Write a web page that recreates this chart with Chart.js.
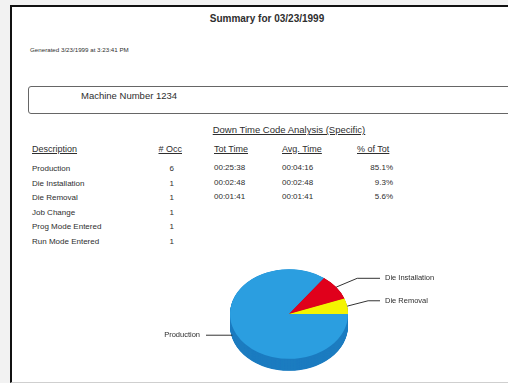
<!DOCTYPE html>
<html>
<head>
<meta charset="utf-8">
<script src="https://cdn.jsdelivr.net/npm/chart.js@4/dist/chart.umd.min.js"></script>
<style>
  html, body { margin: 0; padding: 0; }
  body {
    width: 508px; height: 383px; position: relative; overflow: hidden;
    background: #f2f2f2;
    font-family: "Liberation Sans", Arial, sans-serif; color: #2e2e2e;
  }
  #page {
    position: absolute; left: 10px; top: 5px; width: 520px; height: 375px;
    background: #fff; border-left: 2px solid #111; border-top: 2px solid #111;
    border-bottom: 1px solid #cfcfcf;
  }
  .t { position: absolute; white-space: nowrap; line-height: 1; }
  .u { text-decoration: underline; }
  #machine {
    position: absolute; left: 28px; top: 86px; width: 520px; height: 26px;
    border: 1.5px solid #666; border-radius: 3px;
  }
  #pieWrap { position: absolute; left: 140px; top: 250px; width: 320px; height: 130px; }
</style>
</head>
<body>
<div id="page"></div>
<div id="machine"></div>
<div id="texts"></div>
<div id="pieWrap"><canvas id="pie" width="320" height="130"></canvas></div>
<script>
// Report header texts
const reportTitle = 'Summary for 03/23/1999';
const generatedOn = 'Generated 3/23/1999 at 3:23:41 PM';
const machineLabel = 'Machine Number 1234';
const sectionTitle = 'Down Time Code Analysis (Specific)';

// Table columns
const headers = ['Description', '# Occ', 'Tot Time', 'Avg. Time', '% of Tot'];
const descriptions = ['Production', 'Die Installation', 'Die Removal', 'Job Change', 'Prog Mode Entered', 'Run Mode Entered'];
const occurrences = [6, 1, 1, 1, 1, 1];
const totTimes = ['00:25:38', '00:02:48', '00:01:41'];
const avgTimes = ['00:04:16', '00:02:48', '00:01:41'];
const pctOfTotal = ['85.1%', '9.3%', '5.6%'];

// Pie series: codes that logged time
const pieLabels = ['Production', 'Die Installation', 'Die Removal'];
const pieColors = ['#2b9ee0', '#e0001b', '#f4f400'];
const pieSideColors = ['#1c7cc0', '#a50012', '#c4c400'];

function toSeconds(s) {
  const [h, m, sec] = s.split(':').map(Number);
  return h * 3600 + m * 60 + sec;
}
const pieSeconds = totTimes.map(toSeconds);

// ---- text layout ----
const texts = document.getElementById('texts');
function put(txt, opts) {
  const d = document.createElement('div');
  d.className = 't' + (opts.u ? ' u' : '');
  d.textContent = txt;
  d.style.fontSize = opts.fs + 'px';
  d.style.top = (opts.y - opts.fs / 2) + 'px';
  if (opts.bold) d.style.fontWeight = 'bold';
  if (opts.align === 'center') {
    d.style.left = (opts.x - 200) + 'px'; d.style.width = '400px'; d.style.textAlign = 'center';
  } else if (opts.align === 'right') {
    d.style.left = (opts.x - 200) + 'px'; d.style.width = '200px'; d.style.textAlign = 'right';
  } else {
    d.style.left = opts.x + 'px';
  }
  texts.appendChild(d);
}

put(reportTitle, { x: 267, y: 19, fs: 10, bold: true, align: 'center' });
put(generatedOn, { x: 30, y: 50, fs: 6.2 });
put(machineLabel, { x: 81, y: 96, fs: 9.5 });
put(sectionTitle, { x: 289, y: 130, fs: 9.5, u: true, align: 'center' });

const headerY = 149;
put(headers[0], { x: 32, y: headerY, fs: 9, u: true });
put(headers[1], { x: 182, y: headerY, fs: 9, u: true, align: 'right' });
put(headers[2], { x: 214, y: headerY, fs: 9, u: true });
put(headers[3], { x: 282, y: headerY, fs: 9, u: true });
put(headers[4], { x: 357, y: headerY, fs: 9, u: true });

const rowY = [169, 183.5, 198, 212.5, 227, 241.5];
descriptions.forEach((d, i) => {
  put(d, { x: 32, y: rowY[i], fs: 8 });
  put(String(occurrences[i]), { x: 174, y: rowY[i], fs: 8, align: 'right' });
});
totTimes.forEach((t, i) => {
  put(t, { x: 214, y: rowY[i] - 1, fs: 8 });
  put(avgTimes[i], { x: 282, y: rowY[i] - 1, fs: 8 });
  put(pctOfTotal[i], { x: 393, y: rowY[i] - 1, fs: 8, align: 'right' });
});

// ---- 3D-looking pie ----
const squash = 0.76;   // vertical flattening of the top face
const depth = 12;      // rim thickness in pixels

const pie3d = {
  id: 'pie3d',
  beforeDatasetsDraw(chart) {
    const arcs = chart.getDatasetMeta(0).data;
    const cx = arcs[0].x, cy = arcs[0].y;
    const ctx = chart.ctx;
    ctx.save();
    ctx.translate(cx, cy);
    ctx.scale(1, squash);
    ctx.translate(-cx, -cy);
    const d = depth / squash;
    for (let off = d; off > 0; off -= 0.5) {
      arcs.forEach((a, i) => {
        ctx.beginPath();
        ctx.moveTo(a.x, a.y + off);
        ctx.arc(a.x, a.y + off, a.outerRadius, a.startAngle, a.endAngle);
        ctx.closePath();
        ctx.fillStyle = pieSideColors[i];
        ctx.fill();
      });
    }
  },
  afterDatasetsDraw(chart) {
    chart.ctx.restore();
    const ctx = chart.ctx;
    const arcs = chart.getDatasetMeta(0).data;
    ctx.save();
    ctx.strokeStyle = '#333';
    ctx.lineWidth = 1;
    ctx.fillStyle = '#2e2e2e';
    ctx.font = '7.5px "Liberation Sans", Arial, sans-serif';
    ctx.textBaseline = 'middle';
    arcs.forEach((a, i) => {
      const mid = (a.startAngle + a.endAngle) / 2;
      const R = a.outerRadius;
      const px = a.x + R * Math.cos(mid);
      const py = a.y + R * squash * Math.sin(mid);
      ctx.beginPath();
      if (Math.cos(mid) >= 0) {
        const rise = 4 - Math.sin(mid) * 8;
        const ex = px + 21, ey = py - rise;
        const endX = a.x + R + 32;
        ctx.moveTo(px, py); ctx.lineTo(ex, ey); ctx.lineTo(endX, ey);
        ctx.stroke();
        ctx.textAlign = 'left';
        ctx.fillText(pieLabels[i], endX + 5, ey);
      } else {
        const endX = a.x - R - 24;
        ctx.moveTo(px - 4, py + 1); ctx.lineTo(endX, py + 1);
        ctx.stroke();
        ctx.textAlign = 'right';
        ctx.fillText(pieLabels[i], endX - 6, py + 1);
      }
    });
    ctx.restore();
  }
};

new Chart(document.getElementById('pie'), {
  type: 'pie',
  data: {
    labels: pieLabels,
    datasets: [{
      data: pieSeconds,
      backgroundColor: pieColors,
      borderWidth: 0,
      hoverOffset: 0
    }]
  },
  options: {
    responsive: false,
    animation: false,
    events: [],
    rotation: 90,
    layout: { padding: { left: 90, right: 112, top: 5, bottom: 7 } },
    plugins: { legend: { display: false }, tooltip: { enabled: false } }
  },
  plugins: [pie3d]
});
</script>
</body>
</html>
